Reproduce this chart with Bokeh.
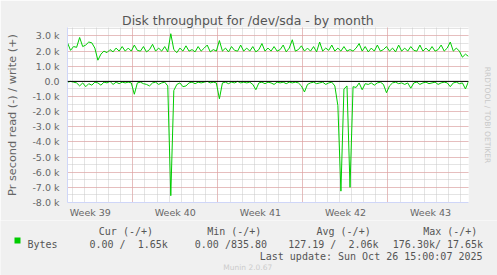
from bokeh.plotting import figure
from bokeh.layouts import column, row
from bokeh.models import Range1d, FixedTicker, Grid, Span, LinearAxis
from bokeh.core.properties import value
from bokeh.embed import file_html
from bokeh.resources import INLINE

# ---------------- data ----------------
title_text = "Disk throughput for /dev/sda - by month"
y_label = "Pr second read (-) / write (+)"
step_hours = 6          # one sample every 6 hours, 33 days shown
total_hours = 792

# write (+) in k bytes/s
write_k = [2.55, 2.05, 2.3, 2.25, 2.9, 2.3, 2.4, 2.6, 2.55, 2.2,
           1.4, 1.8, 2.0, 1.9, 2.1, 1.95, 2.2, 2.0, 2.3, 2.0,
           2.2, 2.0, 2.4, 2.05, 2.0, 2.3, 1.95, 2.1, 2.45, 2.0,
           2.2, 2.0, 2.3, 1.95, 3.15, 2.1, 1.9, 2.2, 2.0, 2.35,
           2.0, 2.1, 1.95, 2.3, 2.0, 2.2, 2.4, 1.95, 2.1, 2.0,
           2.7, 2.0, 2.2, 1.95, 2.3, 2.05, 2.0, 2.4, 2.0, 2.2,
           2.0, 2.3, 1.95, 2.1, 2.5, 2.0, 2.2, 2.0, 2.3, 2.0,
           2.1, 2.4, 1.95, 2.2, 2.75, 2.0, 2.1, 2.35, 2.0, 2.2,
           2.0, 2.3, 1.95, 2.6, 2.0, 2.2, 2.05, 2.4, 2.0, 2.2,
           2.0, 2.3, 2.0, 2.1, 2.0, 2.2, 2.5, 2.0, 2.3, 1.95,
           2.2, 2.0, 2.4, 2.0, 2.1, 2.3, 2.0, 2.2, 1.95, 2.4,
           2.0, 2.2, 2.0, 2.3, 2.05, 2.0, 2.4, 2.0, 2.2, 2.0,
           2.3, 2.0, 2.1, 2.4, 2.0, 2.2, 2.6, 2.0, 2.2, 2.0,
           1.6, 1.8, 1.65]

# read (-) in k bytes/s
read_k = [0.05, 0.0, 0.05, 0.1, 0.3, 0.1, 0.35, 0.15, 0.25, 0.05,
          0.1, 0.25, 0.05, 0.1, 0.0, 0.2, 0.05, 0.15, 0.05, 0.1,
          0.05, 0.1, 0.85, 0.1, 0.05, 0.15, 0.2, 0.3, 0.1, 0.05,
          0.2, 0.1, 0.05, 0.3, 7.55, 0.6, 0.2, 0.1, 0.35, 0.3,
          0.1, 0.05, 0.15, 0.05, 0.1, 0.05, 0.0, 0.1, 0.05, 0.1,
          1.15, 0.1, 0.05, 0.15, 0.05, 0.1, 0.0, 0.1, 0.05, 0.1,
          0.05, 0.2, 0.55, 0.1, 0.05, 0.15, 0.05, 0.1, 0.2, 0.05,
          0.1, 0.05, 0.15, 0.05, 0.1, 0.05, 0.1, 0.3, 0.7, 0.2,
          0.1, 0.05, 0.15, 0.1, 0.05, 0.2, 0.1, 0.05, 0.3, 1.6,
          7.25, 0.5, 0.3, 7.0, 0.35, 0.4, 0.1, 0.55, 0.15, 0.2,
          0.1, 0.25, 0.1, 0.05, 0.2, 0.75, 0.3, 0.1, 0.05, 0.15,
          0.1, 0.2, 0.1, 0.45, 0.1, 0.05, 0.2, 0.1, 0.05, 0.15,
          0.1, 0.05, 0.2, 0.1, 0.05, 0.1, 0.35, 0.1, 0.05, 0.15,
          0.1, 0.5, 0.0]

week_labels = ["Week 39", "Week 40", "Week 41", "Week 42", "Week 43"]
week_label_hours = [45, 213, 381, 549, 717]
week_start_hours = [129, 297, 465, 633]
day_hours = [9 + 24 * d for d in range(33)]
y_major = [-8000, -7000, -6000, -5000, -4000, -3000, -2000, -1000, 0, 1000, 2000, 3000]
y_major_labels = ["-8.0 k", "-7.0 k", "-6.0 k", "-5.0 k", "-4.0 k", "-3.0 k", "-2.0 k",
                  "-1.0 k", "0.0", "1.0 k", "2.0 k", "3.0 k"]
y_minor = [-7500, -6500, -5500, -4500, -3500, -2500, -1500, -500, 500, 1500, 2500, 3500]

legend_headers = ["Cur (-/+)", "Min (-/+)", "Avg (-/+)", "Max (-/+)"]
series_name = "Bytes"
legend_values = ["0.00 /", "1.65k", "0.00 /835.80", "127.19 /", "2.06k", "176.30k/ 17.65k"]
footer = "Last update: Sun Oct 26 15:00:07 2025"
version = "Munin 2.0.67"
side_text = "RRDTOOL / TOBI OETIKER"

hours = [i * step_hours for i in range(len(write_k))]
write = [v * 1000 for v in write_k]
read_neg = [-v * 1000 for v in read_k]

# ---------------- styling ----------------
GREEN = "#00cc00"
AXIS = "#CFD6F8"
BG = "#f0f0f0"
FONT = "DejaVu Sans"
MONO = "DejaVu Sans Mono"
TXT = "#555555"

# ---------------- main chart (page y 0..220) ----------------
p = figure(width=497, height=220, output_backend="svg", toolbar_location=None,
           title=title_text,
           x_range=Range1d(0, total_hours), y_range=Range1d(-8000, 3560),
           min_border_left=67, min_border_right=29, min_border_top=27, min_border_bottom=17)
p.background_fill_color = "white"
p.border_fill_color = BG
p.outline_line_color = None
p.title.align = "left"
p.title.offset = 54.5
p.title.text_font = FONT
p.title.text_font_size = "12.5px"
p.title.text_font_style = "normal"
p.title.text_color = TXT
p.title.vertical_align = "bottom"
try:
    p.title.standoff = 0
except Exception:
    pass

p.xaxis.ticker = FixedTicker(ticks=week_label_hours)
p.xaxis.major_label_overrides = {h: t for h, t in zip(week_label_hours, week_labels)}
p.yaxis.ticker = FixedTicker(ticks=y_major)
p.yaxis.major_label_overrides = {v: t for v, t in zip(y_major, y_major_labels)}
for ax in (p.xaxis[0], p.yaxis[0]):
    ax.axis_line_color = AXIS
    ax.major_tick_in = 0
    ax.major_tick_out = 0
    ax.minor_tick_line_color = None
    ax.major_label_text_font = FONT
    ax.major_label_text_font_size = "9.5px"
    ax.major_label_text_color = "#666666"
p.xaxis.major_label_standoff = 4
p.yaxis.major_label_standoff = 8
p.yaxis.axis_label = y_label
p.yaxis.axis_label_text_font = FONT
p.yaxis.axis_label_text_font_size = "11.3px"
p.yaxis.axis_label_text_font_style = "normal"
p.yaxis.axis_label_text_color = "#666666"
p.yaxis.axis_label_standoff = 10

# faint vertical credit on the right, carried by a tick-less right axis
side_axis = LinearAxis(ticker=FixedTicker(ticks=[]), bounds=(79, 3560), axis_label=side_text,
                       axis_line_color=None, major_tick_in=0, major_tick_out=0,
                       minor_tick_in=0, minor_tick_out=0, major_label_standoff=0,
                       axis_label_standoff=14, axis_label_text_font=FONT,
                       axis_label_text_font_size="7.5px", axis_label_text_color="#c8c8c8",
                       axis_label_text_font_style="normal")
p.add_layout(side_axis, "right")

p.xgrid.ticker = FixedTicker(ticks=day_hours)
p.ygrid.ticker = FixedTicker(ticks=y_minor + y_major)
for g in (p.xgrid[0], p.ygrid[0]):
    g.grid_line_color = "#c8c8c8"
    g.grid_line_dash = "1 1"
p.add_layout(Grid(dimension=0, ticker=FixedTicker(ticks=week_start_hours),
                  grid_line_color="#e89898", grid_line_dash="1 1"))
p.add_layout(Grid(dimension=1, ticker=FixedTicker(ticks=y_major),
                  grid_line_color="#e89898", grid_line_dash="1 1"))

p.line(hours, write, line_color=GREEN, line_width=1)
p.line(hours, read_neg, line_color=GREEN, line_width=1)
p.add_layout(Span(location=0, dimension="width", line_color="black", line_width=1))

# ---------------- legend strip (page y 220..275, pixel coordinates) ----------------
leg = figure(width=497, height=55, output_backend="svg", toolbar_location=None,
             x_range=Range1d(0, 497), y_range=Range1d(275, 220),
             x_axis_location=None, y_axis_location=None,
             min_border=0, min_border_left=0, min_border_right=0,
             min_border_top=0, min_border_bottom=0)
leg.grid.visible = False
leg.outline_line_color = None
leg.background_fill_color = BG
leg.border_fill_color = BG
leg.quad(left=[14], right=[20], top=[237], bottom=[243], fill_color=GREEN, line_color=None)
leg.text(x=[98.3, 206.7, 316, 422.7], y=[231] * 4, text=legend_headers,
         text_font=value(MONO), text_font_size="10px", text_color=TXT, text_baseline="alphabetic")
leg.text(x=[27, 89, 137.2, 194.3, 287.7, 347.9, 392.3], y=[243.5] * 7,
         text=[series_name] + legend_values,
         text_font=value(MONO), text_font_size="10px", text_color=TXT, text_baseline="alphabetic")
leg.text(x=[482], y=[255.6], text=[footer], text_font=value(MONO), text_font_size="10px",
         text_color=TXT, text_align="right", text_baseline="alphabetic")
leg.text(x=[222.7], y=[266.5], text=[version], text_font=value(FONT), text_font_size="7.5px",
         text_color="#cccccc", text_baseline="alphabetic")

# wrapping the chart in its own row keeps Bokeh from aligning the two plot frames
layout = column(row(p, spacing=0), leg, spacing=0)

open("out.html", "w").write(file_html(layout, INLINE))
